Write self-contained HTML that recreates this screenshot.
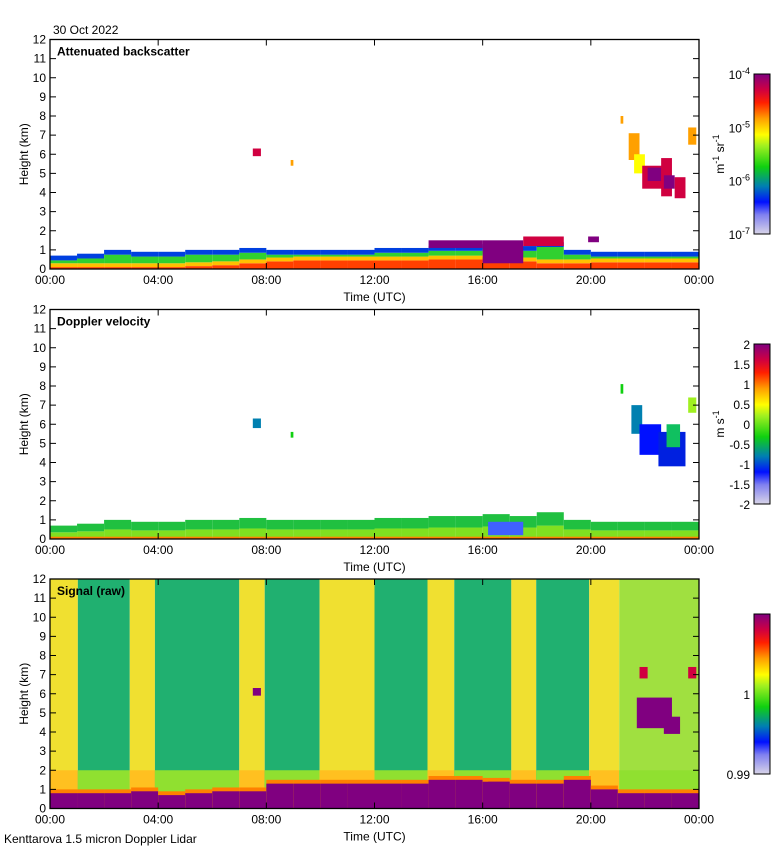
<!DOCTYPE html>
<html><head><meta charset="utf-8"><style>
body{margin:0;background:#fff;font-family:"Liberation Sans",sans-serif}
svg text{font-family:"Liberation Sans",sans-serif;font-size:12px;fill:#000}
</style></head><body>
<svg id="fig" width="780" height="850" xmlns="http://www.w3.org/2000/svg">
<defs>
<linearGradient id="cmap" x1="0" y1="1" x2="0" y2="0">
<stop offset="0" stop-color="#d8d4e8"/><stop offset="0.12" stop-color="#8080f0"/>
<stop offset="0.2" stop-color="#0010ff"/><stop offset="0.3" stop-color="#0080b0"/>
<stop offset="0.42" stop-color="#10d010"/><stop offset="0.55" stop-color="#a0f020"/>
<stop offset="0.62" stop-color="#ffff00"/><stop offset="0.72" stop-color="#ffa000"/>
<stop offset="0.82" stop-color="#ff2000"/><stop offset="0.9" stop-color="#d00040"/>
<stop offset="1" stop-color="#800080"/></linearGradient>
</defs>
<text x="53" y="34">30 Oct 2022</text>
<text x="4" y="843">Kenttarova 1.5 micron Doppler Lidar</text>
</svg>
<script>
// data
const hours=[0,1,2,3,4,5,6,7,8,9,10,11,12,13,14,15,16,17,18,19,20,21,22,23];
const blTop=[0.7,0.8,1.0,0.9,0.9,1.0,1.0,1.1,1.0,1.0,1.0,1.0,1.1,1.1,1.2,1.2,1.3,1.2,1.4,1.0,0.9,0.9,0.9,0.9];
const orangeTop=[0.1,0.1,0.1,0.1,0.1,0.15,0.2,0.3,0.4,0.45,0.45,0.45,0.45,0.45,0.5,0.5,0.6,0.4,0.3,0.3,0.35,0.35,0.35,0.35];
// clouds: start hour, end hour, bottom km, top km, colour
const bsClouds=[[7.5,7.8,5.9,6.3,'#d00040'],[8.9,9.0,5.4,5.7,'#ffa000'],[14,16,1.1,1.5,'#800080'],[16,17.5,0.3,1.5,'#800080'],[17.5,19,1.2,1.7,'#d00040'],[19.9,20.3,1.4,1.7,'#800080'],
[21.4,21.8,5.7,7.1,'#ffa000'],[21.6,22.0,5.0,6.0,'#ffff00'],[21.9,22.7,4.2,5.4,'#d00040'],[22.1,22.6,4.6,5.3,'#800080'],[22.6,23.0,3.8,5.8,'#d00040'],[22.7,23.1,4.2,4.9,'#800080'],[23.1,23.5,3.7,4.8,'#d00040'],[23.6,23.9,6.5,7.4,'#ffa000'],[21.1,21.2,7.6,8.0,'#ffa000']];
const dvClouds=[[7.5,7.8,5.8,6.3,'#0080b0'],[8.9,9.0,5.3,5.6,'#10d010'],[16.2,17.5,0.2,0.9,'#4060ff'],
[21.5,21.9,5.5,7.0,'#0080b0'],[21.8,22.6,4.4,6.0,'#0010ff'],[22.5,23.5,3.8,5.6,'#0020e0'],[22.8,23.3,4.8,6.0,'#10c060'],[23.6,23.9,6.6,7.4,'#a0f020'],[21.1,21.2,7.6,8.1,'#10d010']];
// signal panel: stripe start/end hours and level (1=yellow,0=green)
const stripeStart=[0,1.03,2.95,3.88,7.0,7.94,9.97,12.0,13.96,14.95,17.06,17.98,19.94,21.05];
const stripeEnd=[1.03,2.95,3.88,7.0,7.94,9.97,12.0,13.96,14.95,17.06,17.98,19.94,21.05,24];
const stripeLevel=[1,0,1,0,1,0,1,0,1,0,1,0,1,0.5];
const sigGround=[0.8,0.8,0.8,0.9,0.7,0.8,0.9,0.9,1.3,1.3,1.3,1.3,1.3,1.3,1.5,1.5,1.4,1.3,1.3,1.5,1.0,0.8,0.8,0.8];
const sigClouds=[[7.5,7.8,5.9,6.3,'#800080'],[21.7,23.0,4.2,5.8,'#800080'],[22.7,23.3,3.9,4.8,'#800080'],[21.8,22.1,6.8,7.4,'#d00040'],[23.6,23.9,6.8,7.4,'#d00040'],[16.2,17.0,0.3,1.4,'#800080']];
const yTicks=[0,1,2,3,4,5,6,7,8,9,10,11,12];
const xTicks=['00:00','04:00','08:00','12:00','16:00','20:00','00:00'];

const NS='http://www.w3.org/2000/svg',svg=document.getElementById('fig');
const X0=50,X1=699,H=229.5;
function el(t,a,p){const e=document.createElementNS(NS,t);for(const k in a)e.setAttribute(k,a[k]);(p||svg).appendChild(e);return e;}
function panel(top,name,title,draw){
 const g=el('g',{});
 const sx=h=>X0+h/24*(X1-X0), sy=k=>top+H-k/12*H;
 const r=(h0,h1,k0,k1,c)=>{const e=el('rect',{x:sx(h0),y:sy(k1),width:Math.max(0.8,sx(h1)-sx(h0)),height:Math.max(0.8,sy(k0)-sy(k1)),fill:c},g);};
 draw(r);
 el('rect',{x:X0,y:top,width:X1-X0,height:H,fill:'none',stroke:'#000','stroke-width':1.3},g);
 yTicks.forEach(v=>{const y=sy(v);el('line',{x1:X0,x2:X0+6,y1:y,y2:y,stroke:'#000'},g);el('line',{x1:X1-6,x2:X1,y1:y,y2:y,stroke:'#000'},g);
  const t=el('text',{x:X0-4,y:y+4,'text-anchor':'end'},g);t.textContent=v;});
 xTicks.forEach((v,i)=>{const x=sx(i*4);el('line',{x1:x,x2:x,y1:top,y2:top+6,stroke:'#000'},g);el('line',{x1:x,x2:x,y1:top+H-6,y2:top+H,stroke:'#000'},g);
  const t=el('text',{x:x,y:top+H+15,'text-anchor':'middle'},g);t.textContent=v;});
 let t=el('text',{x:X0+(X1-X0)/2,y:top+H+32,'text-anchor':'middle'},g);t.textContent='Time (UTC)';
 t=el('text',{x:0,y:0,'text-anchor':'middle',transform:`translate(28,${top+H/2}) rotate(-90)`},g);t.textContent='Height (km)';
 t=el('text',{x:X0+7,y:top+16,'font-weight':'bold','font-size':'13px'},g);t.textContent=title;
}
panel(39.5,'backscatter-panel','Attenuated backscatter',r=>{
 hours.forEach((h,i)=>{const tp=blTop[i],o=orangeTop[i];
  r(h,h+1,0,o,'#ff4000');r(h,h+1,o,o+0.2,'#ffc000');r(h,h+1,o+0.2,tp-0.25,'#30d030');r(h,h+1,tp-0.25,tp,'#0040e0');});
 bsClouds.forEach(c=>r(c[0],c[1],c[2],c[3],c[4]));
});
panel(309.5,'doppler-panel','Doppler velocity',r=>{
 hours.forEach((h,i)=>{const tp=blTop[i];r(h,h+1,0,tp*0.5,'#80e020');r(h,h+1,tp*0.5,tp,'#20c040');r(h,h+1,0,0.12,'#ff8000');});
 dvClouds.forEach(c=>r(c[0],c[1],c[2],c[3],c[4]));
});
panel(579,'signal-panel','Signal (raw)',r=>{
 stripeStart.forEach((s,i)=>{const l=stripeLevel[i];
  r(s,stripeEnd[i],0,12,l>0.7?'#f0e030':l>0.3?'#a0e040':'#20b070');
  r(s,stripeEnd[i],0,2,l>0.7?'#ffc020':'#90e030');});
 hours.forEach((h,i)=>{r(h,h+1,0,sigGround[i]+0.2,'#ff8000');r(h,h+1,0,sigGround[i],'#800080');});
 sigClouds.forEach(c=>r(c[0],c[1],c[2],c[3],c[4]));
});
// colorbars
function cbar(top,name,labels,unit){
 const g=el('g',{});
 el('rect',{x:754,y:top,width:16,height:160,fill:'url(#cmap)',stroke:'#000','stroke-width':1},g);
 labels.forEach(l=>{const t=el('text',{x:750,y:top+l[0]*160+5,'text-anchor':'end'},g);t.innerHTML=l[1];});
 if(unit){const t=el('text',{x:0,y:0,'text-anchor':'middle',transform:`translate(724,${top+80}) rotate(-90)`},g);t.innerHTML=unit;}
}
cbar(74,'backscatter-colorbar',[[0,'10<tspan dy="-5" font-size="9">-4</tspan>'],[0.333,'10<tspan dy="-5" font-size="9">-5</tspan>'],[0.667,'10<tspan dy="-5" font-size="9">-6</tspan>'],[1,'10<tspan dy="-5" font-size="9">-7</tspan>']],'m<tspan dy="-5" font-size="9">-1</tspan><tspan dy="5"> sr</tspan><tspan dy="-5" font-size="9">-1</tspan>');
cbar(344,'velocity-colorbar',[[0,'2'],[0.125,'1.5'],[0.25,'1'],[0.375,'0.5'],[0.5,'0'],[0.625,'-0.5'],[0.75,'-1'],[0.875,'-1.5'],[1,'-2']],'m s<tspan dy="-5" font-size="9">-1</tspan>');
cbar(614,'signal-colorbar',[[0.5,'1'],[1,'0.99']],null);
</script>
</body></html>
